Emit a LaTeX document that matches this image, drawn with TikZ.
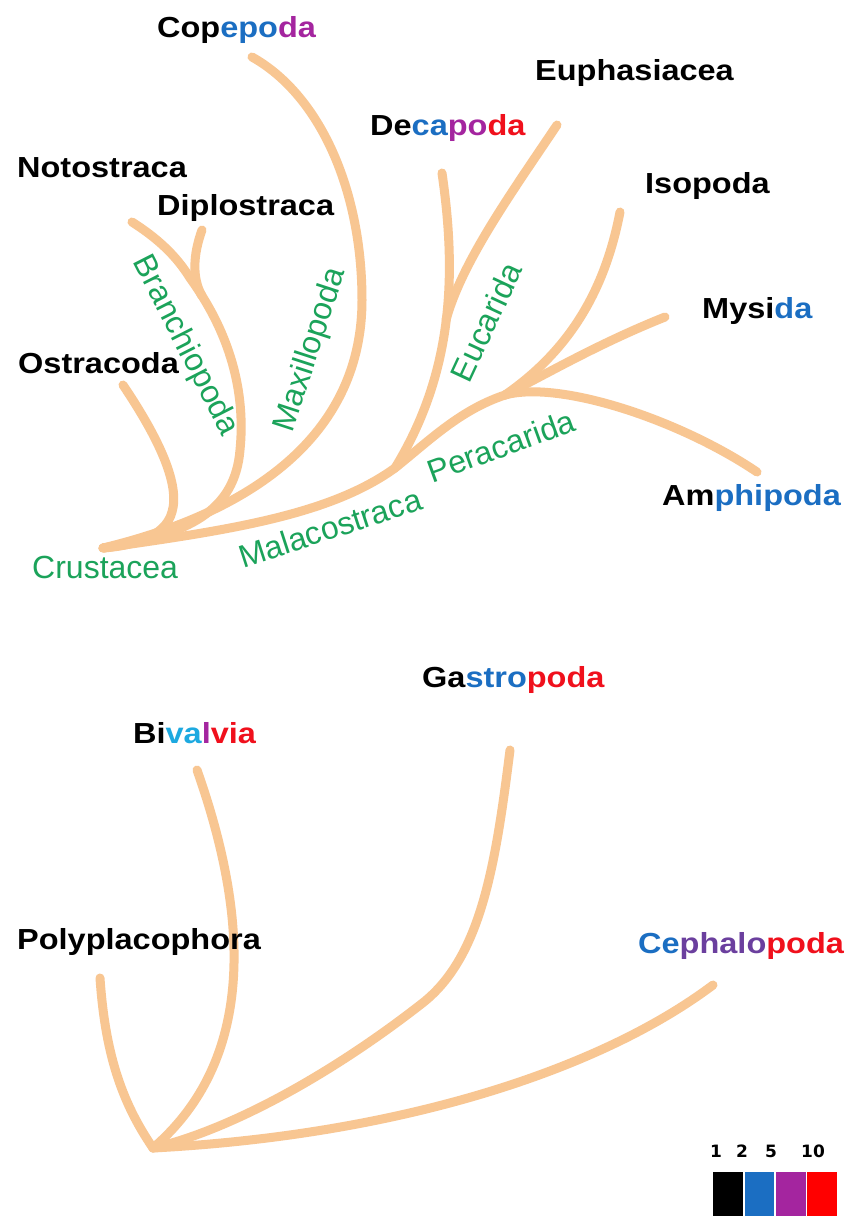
\documentclass[tikz,border=0pt]{standalone}
\usepackage{fontspec}
\setmainfont{Liberation Sans}
\newfontfamily\taxonfont{Liberation Sans}[FakeStretch=1.12]
\newfontfamily\legendfont{DejaVu Sans}
\usepackage{xcolor}
\definecolor{branchPeach}{HTML}{F8C692}
\definecolor{cladeGreen}{HTML}{1BA35A}
\definecolor{countBlue}{HTML}{1B6EC2}
\definecolor{countPurple}{HTML}{A4259F}
\definecolor{countRed}{HTML}{F0101C}
\definecolor{countCyan}{HTML}{1DA9E0}
\definecolor{countViolet}{HTML}{6B3F9E}
\usepackage{tikz}

\begin{document}
\begin{tikzpicture}[
    x=1pt, y=-1pt,
    taxon/.style ={anchor=base west, inner sep=0pt,
                   font=\taxonfont\bfseries\fontsize{29}{34}\selectfont},
    clade/.style ={inner sep=0pt, text=cladeGreen,
                   font=\fontsize{32}{38}\selectfont},
    branch/.style={draw=branchPeach, line width=9pt, line cap=round},
    swatch/.style={anchor=north west, inner sep=0pt,
                   minimum width=29.5pt, minimum height=44pt},
    count/.style ={anchor=base, inner sep=0pt,
                   font=\legendfont\bfseries\fontsize{17}{20}\selectfont}
]
\fill[white] (0,0) rectangle (846,1216);
\useasboundingbox (0,0) rectangle (846,1216);

% crustacea
\coordinate (crustRoot)    at (103,548);
\coordinate (ostraTip)     at (123,385);
\coordinate (notoTip)      at (132,222);
\coordinate (diploTip)     at (202,230);
\coordinate (branchioFork) at (190,278);
\coordinate (diploJoin)    at (202,296);
\coordinate (copeTip)      at (252,57);
\coordinate (decaTip)      at (442,173);
\coordinate (euphaTip)     at (557,125);
\coordinate (eucaFork)     at (446,320);
\coordinate (malacoFork)   at (395,468);
\coordinate (peraFork)     at (505,395);
\coordinate (isoTip)       at (620,212);
\coordinate (mysiTip)      at (665,317);
\coordinate (amphiTip)     at (757,472);

\draw[branch] (ostraTip) .. controls (160,440) and (180,485) .. (172,512)
              .. controls (165,538) and (130,546) .. (crustRoot);
\draw[branch] (notoTip) .. controls (165,243) and (180,262) .. (branchioFork)
              .. controls (235,340) and (245,400) .. (240,450)
              .. controls (235,510) and (190,535) .. (crustRoot);
\draw[branch] (diploTip) .. controls (193,255) and (192,278) .. (diploJoin);
\draw[branch] (copeTip) .. controls (320,95) and (362,190) .. (362,300)
              .. controls (362,430) and (260,510) .. (crustRoot);
\draw[branch] (crustRoot) .. controls (230,530) and (330,515) .. (malacoFork)
              .. controls (430,440) and (460,410) .. (peraFork);
\draw[branch] (decaTip) .. controls (456,270) and (455,370) .. (malacoFork);
\draw[branch] (euphaTip) .. controls (510,195) and (462,262) .. (eucaFork);
\draw[branch] (isoTip) .. controls (605,290) and (570,350) .. (peraFork);
\draw[branch] (mysiTip) .. controls (600,343) and (550,372) .. (peraFork);
\draw[branch] (peraFork) .. controls (560,380) and (680,420) .. (amphiTip);

\node[taxon] (copepoda)    at (157,37)  {Cop\textcolor{countBlue}{epo}\textcolor{countPurple}{da}};
\node[taxon] (euphasiacea) at (535,80)  {Euphasiacea};
\node[taxon] (decapoda)    at (370,135) {De\textcolor{countBlue}{ca}\textcolor{countPurple}{po}\textcolor{countRed}{da}};
\node[taxon] (notostraca)  at (17,177)  {Notostraca};
\node[taxon] (diplostraca) at (157,215) {Diplostraca};
\node[taxon] (isopoda)     at (645,193) {Isopoda};
\node[taxon] (mysida)      at (702,318) {Mysi\textcolor{countBlue}{da}};
\node[taxon] (ostracoda)   at (18,373)  {Ostracoda};
\node[taxon] (amphipoda)   at (662,505) {Am\textcolor{countBlue}{phipoda}};

\node[clade, anchor=base west] (crustacea) at (32,578) {Crustacea};
\node[clade, rotate=-63] (branchiopoda) at (185,346) {Branchiopoda};
\node[clade, rotate=72]  (maxillopoda)  at (311,350) {Maxillopoda};
\node[clade, rotate=65]  (eucarida)     at (486,322) {Eucarida};
\node[clade, rotate=18]  (malacostraca) at (330,528) {Malacostraca};
\node[clade, rotate=20]  (peracarida)   at (501,446) {Peracarida};

% mollusca
\coordinate (molluRoot) at (153,1148);
\coordinate (polyTip)   at (100,978);
\coordinate (bivaTip)   at (197,770);
\coordinate (gastroTip) at (510,750);
\coordinate (cephaTip)  at (713,985);

\draw[branch] (polyTip) .. controls (105,1050) and (120,1100) .. (molluRoot);
\draw[branch] (bivaTip) .. controls (250,920) and (255,1060) .. (molluRoot);
\draw[branch] (gastroTip) .. controls (495,870) and (480,960) .. (420,1005)
              .. controls (330,1075) and (230,1130) .. (molluRoot);
\draw[branch] (cephaTip) .. controls (600,1070) and (400,1135) .. (molluRoot);

\node[taxon] (gastropoda)     at (422,687) {Ga\textcolor{countBlue}{stro}\textcolor{countRed}{poda}};
\node[taxon] (bivalvia)       at (133,743) {Bi\textcolor{countCyan}{va}\textcolor{countPurple}{l}\textcolor{countRed}{via}};
\node[taxon] (polyplacophora) at (17,949)  {Polyplacophora};
\node[taxon] (cephalopoda)    at (638,953) {\textcolor{countBlue}{Ce}\textcolor{countViolet}{phalo}\textcolor{countRed}{poda}};

% legend
\node[swatch, fill=black]       (swOne)  at (713,1172)   {};
\node[swatch, fill=countBlue]   (swTwo)  at (744.5,1172) {};
\node[swatch, fill=countPurple] (swFive) at (776,1172)   {};
\node[swatch, fill=red]         (swTen)  at (807,1172)   {};
\node[count] (cntOne)  at (716,1157) {1};
\node[count] (cntTwo)  at (742,1157) {2};
\node[count] (cntFive) at (771,1157) {5};
\node[count] (cntTen)  at (813,1157) {10};
\end{tikzpicture}
\end{document}
